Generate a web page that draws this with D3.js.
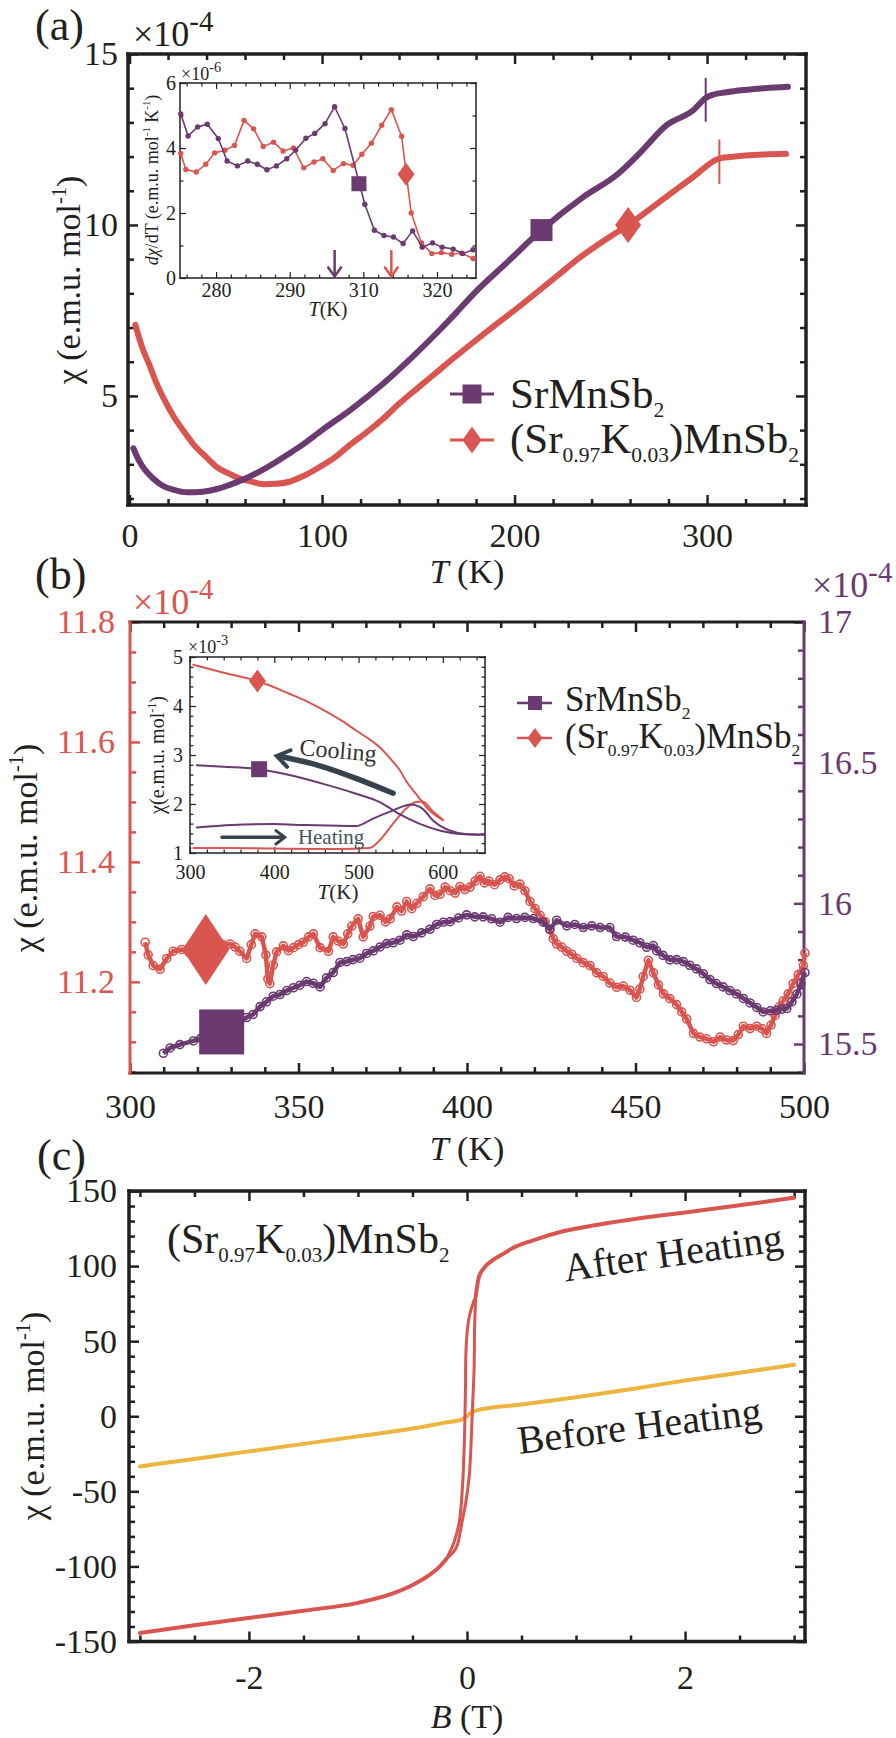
<!DOCTYPE html>
<html lang="en">
<head>
<meta charset="UTF-8">
<title>SrMnSb2 susceptibility</title>
<script src="https://d3js.org/d3.v7.min.js"></script>
<style>
  body { margin: 0; background: #fff; }
  svg { display: block; }
  svg text { font-family: "Liberation Serif", "Times New Roman", Tinos, "DejaVu Serif", serif; }
</style>
</head>
<body>
<script>
const SERIF = '"Liberation Serif", "Times New Roman", Tinos, "DejaVu Serif", serif';
const INK = "#231f20", PURPLE = "#6b3a70", RED = "#d9554f", GOLD = "#ebb53f", SLATE = "#37424d";

// ---------- (a) chi(T), units 1e-4 emu/mol ----------
const aT_Sr   = [2, 5, 8, 12, 17, 23, 30, 38, 45, 52, 60, 68, 75, 82, 89, 100, 115, 132, 149, 161, 170, 179, 196, 214, 236, 253, 265, 279, 293, 299.5, 302, 310, 320, 330, 342];
const aChi_Sr = [3.47, 3.1, 2.84, 2.6, 2.38, 2.25, 2.18, 2.2, 2.27, 2.4, 2.58, 2.8, 3.03, 3.28, 3.54, 4.0, 4.6, 5.37, 6.25, 6.92, 7.45, 8.0, 8.9, 9.85, 10.83, 11.46, 12.1, 12.92, 13.36, 13.72, 13.79, 13.88, 13.95, 14.0, 14.04];
const aT_K    = [3, 7, 10, 14, 18, 23, 28, 33, 40, 45, 52, 57, 63, 69.5, 76, 83, 90, 99, 107, 114.5, 123, 132, 140, 149, 158, 166.5, 182, 204.6, 221.9, 234, 248, 259, 279, 293, 306.4, 312, 320, 330, 341];
const aChi_K  = [7.08, 6.35, 5.95, 5.37, 4.9, 4.39, 3.98, 3.6, 3.2, 2.93, 2.72, 2.59, 2.5, 2.42, 2.43, 2.49, 2.65, 2.93, 3.22, 3.57, 3.93, 4.35, 4.77, 5.2, 5.62, 6.02, 6.72, 7.71, 8.5, 9.05, 9.6, 10.0, 10.83, 11.41, 11.95, 11.99, 12.03, 12.06, 12.08];
const aMarkT  = [214, 259];          // square (Sr), diamond (K)
const aTc     = [299.3, 306.4];      // transition bars
const aTcLo   = [13.02, 11.2], aTcHi = [14.3, 12.5];

// ---------- (a) inset: dchi/dT, units 1e-6 ----------
const iaTickVals = [280, 290, 300, 310];
const iaTickText = ["280", "290", "310", "320"];
const iaT_Sr = [275.2, 276.2, 277.5, 278.8, 280.3, 281.5, 282.9, 284.3, 285.6, 286.9, 288.2, 289.6, 290.8, 292.2, 293.4, 294.8, 296.1, 297.5, 300.2, 301.5, 302.8, 304.1, 305.4, 306.7, 308.0, 309.4, 310.7, 312.2, 313.5, 314.9];
const iaD_Sr = [5.05, 4.37, 4.65, 4.73, 4.29, 3.60, 3.45, 3.60, 3.50, 3.33, 3.45, 3.67, 3.93, 4.30, 4.45, 4.75, 5.27, 4.60, 2.27, 1.47, 1.31, 1.26, 1.06, 1.45, 0.95, 1.08, 0.95, 0.89, 0.75, 0.87];
const iaT_K  = [275.2, 275.9, 277.3, 278.6, 279.8, 281.2, 282.5, 283.8, 285.1, 286.4, 287.8, 289.1, 290.5, 291.9, 293.3, 294.5, 295.9, 297.3, 298.6, 299.8, 301.1, 302.5, 303.8, 305.2, 306.5, 307.9, 309.3, 310.6, 312.0, 313.3, 314.9];
const iaD_K  = [3.83, 3.34, 3.26, 3.50, 3.85, 3.93, 4.08, 4.85, 4.59, 4.05, 4.18, 3.91, 4.00, 3.39, 3.57, 3.67, 3.31, 3.52, 3.47, 3.81, 4.15, 4.70, 5.18, 4.36, 2.00, 1.08, 0.75, 0.78, 0.73, 0.77, 0.60];
const iaMarkT = [299.4, 305.8], iaMarkD = [2.9, 3.19];
const iaArrowT = [296.1, 303.8];

// ---------- (b) chi(T) above 300 K, units 1e-4 ----------
const bT_K = [304.5, 305.4, 306.9, 308.9, 310.9, 312.8, 315.3, 317.5, 320, 322.5, 325, 327.5, 329.7, 331.2, 332.6, 334.6, 336, 337.1, 339.1, 340.3, 340.9, 341.5, 342.5, 343.5, 345.5, 347, 348.5, 350, 351.4, 353, 354.4, 356.4, 358.9, 360.3, 361.8, 363.3, 364.6, 365.8, 367.7, 369.2, 371.2, 372.2, 374.2, 375.8, 377.2, 379.2, 380.6, 382.1, 383.6, 385.1, 387, 389, 390.5, 392, 393.5, 395, 396.5, 397.9, 399.4, 400.9, 402.4, 403.9, 405.2, 406.5, 408.2, 409.8, 411.2, 412.5, 414, 415.7, 417.2, 418.7, 420.2, 421.7, 423.2, 424.6, 425.6, 426.6, 428.1, 429.6, 431.1, 432.6, 434.5, 436.5, 438.5, 440.4, 442.4, 444.4, 446.4, 448.4, 450.3, 451.3, 452.3, 453.8, 455.3, 456.8, 458.3, 460.2, 462.2, 463.7, 465.2, 467.2, 469.1, 471.1, 473.1, 475.1, 477, 479, 480.5, 482, 484, 486, 487.5, 488.9, 490.2, 491.4, 492.6, 493.8, 495.3, 496.8, 498.3, 499.8, 500.3];
const bChi_K = [11.266, 11.245, 11.227, 11.221, 11.239, 11.251, 11.254, 11.249, 11.256, 11.254, 11.258, 11.262, 11.263, 11.258, 11.251, 11.239, 11.262, 11.280, 11.275, 11.245, 11.205, 11.197, 11.228, 11.250, 11.260, 11.252, 11.257, 11.262, 11.266, 11.275, 11.280, 11.257, 11.251, 11.275, 11.268, 11.263, 11.280, 11.293, 11.305, 11.275, 11.293, 11.309, 11.311, 11.300, 11.305, 11.325, 11.318, 11.334, 11.322, 11.331, 11.342, 11.355, 11.344, 11.346, 11.358, 11.352, 11.348, 11.359, 11.354, 11.358, 11.368, 11.376, 11.365, 11.368, 11.362, 11.370, 11.375, 11.372, 11.360, 11.363, 11.352, 11.334, 11.322, 11.311, 11.300, 11.287, 11.272, 11.263, 11.258, 11.251, 11.246, 11.239, 11.232, 11.227, 11.215, 11.209, 11.198, 11.191, 11.193, 11.186, 11.174, 11.188, 11.209, 11.236, 11.215, 11.195, 11.180, 11.172, 11.162, 11.150, 11.138, 11.114, 11.108, 11.105, 11.100, 11.108, 11.103, 11.102, 11.112, 11.126, 11.122, 11.126, 11.122, 11.114, 11.128, 11.144, 11.158, 11.168, 11.180, 11.197, 11.212, 11.227, 11.248];
const bT_Sr = [309.9, 311.9, 314.8, 318.8, 321, 324, 327, 330, 332.5, 334.6, 336.5, 338.6, 340.5, 342.5, 344.5, 346.5, 348.5, 350.4, 352.4, 354.4, 356.4, 358.3, 360.3, 362.3, 364.3, 366.2, 368.2, 370.2, 372.2, 374.2, 376.2, 378.1, 380.1, 382.1, 384.1, 386.5, 389, 391, 393, 395, 397.5, 399.9, 402.3, 404.8, 407.3, 409.8, 412.2, 414.7, 417.2, 419.7, 422.6, 424.6, 426.6, 429.6, 432, 434.5, 437, 439.5, 442.4, 444.4, 447, 449.3, 451.3, 453.3, 455.3, 456.3, 458.2, 460.2, 462.2, 464.2, 466.1, 468.1, 470.1, 472.1, 474, 476, 478, 480, 482, 484, 486, 487.9, 490, 491.9, 493.4, 494.9, 496.4, 497.9, 499.1, 500.3];
const bChi_Sr = [15.467, 15.486, 15.498, 15.511, 15.52, 15.535, 15.55, 15.565, 15.58, 15.594, 15.605, 15.633, 15.65, 15.67, 15.676, 15.69, 15.70, 15.709, 15.722, 15.716, 15.703, 15.735, 15.754, 15.79, 15.793, 15.80, 15.805, 15.822, 15.831, 15.845, 15.857, 15.86, 15.869, 15.888, 15.882, 15.895, 15.908, 15.925, 15.933, 15.935, 15.948, 15.959, 15.952, 15.952, 15.945, 15.933, 15.95, 15.946, 15.95, 15.946, 15.933, 15.908, 15.94, 15.92, 15.925, 15.914, 15.92, 15.914, 15.914, 15.882, 15.88, 15.869, 15.86, 15.844, 15.85, 15.831, 15.815, 15.799, 15.80, 15.793, 15.78, 15.767, 15.75, 15.729, 15.715, 15.703, 15.69, 15.678, 15.662, 15.646, 15.63, 15.614, 15.618, 15.62, 15.624, 15.626, 15.65, 15.678, 15.715, 15.754];
const bMarkK  = [322.5, 11.254];   // diamond on left (red) axis
const bMarkSr = [327.2, 15.543];   // square on right (purple) axis

// ---------- (b) inset: chi(T) to 650 K, units 1e-3 ----------
const ibT_KCool  = [304, 340, 380, 418, 438, 458, 478, 497, 517, 525, 541, 549, 556, 568, 584, 600];
const ibChi_KCool = [4.84, 4.68, 4.51, 4.25, 4.10, 3.92, 3.72, 3.50, 3.27, 3.16, 2.86, 2.69, 2.48, 2.21, 1.87, 1.67];
const ibT_KHeat  = [304, 350, 399, 477, 513, 525, 541, 556, 568, 576, 588, 600];
const ibChi_KHeat = [1.10, 1.10, 1.09, 1.08, 1.10, 1.26, 1.60, 1.90, 2.04, 2.05, 1.85, 1.68];
const ibT_SrCool = [308, 340, 382, 418, 458, 497, 525, 548, 572, 596, 620, 650];
const ibChi_SrCool = [2.79, 2.76, 2.71, 2.59, 2.41, 2.21, 2.04, 1.80, 1.60, 1.46, 1.39, 1.37];
const ibT_SrHeat = [308, 350, 399, 438, 497, 517, 541, 562, 576, 588, 608, 627, 650];
const ibChi_SrHeat = [1.52, 1.57, 1.59, 1.57, 1.55, 1.70, 1.87, 1.99, 1.90, 1.67, 1.46, 1.39, 1.38];
const ibMarkK = [380, 4.51], ibMarkSr = [382, 2.71];
const coolArrowT = [541, 498, 454, 410], coolArrowChi = [2.22, 2.52, 2.80, 2.96];
const heatArrowT = [338, 410], heatArrowChi = [1.32, 1.32];

// ---------- (c) chi(B) at room temperature ----------
const cB_before   = [-3, -2.5, -2, -1.5, -1, -0.5, -0.19, -0.05, 0, 0.05, 0.11, 0.5, 1, 1.5, 2, 2.5, 3];
const cChi_before = [-33.4, -28.4, -23.4, -18.4, -13.4, -8.2, -4.1, -2.2, 0.2, 2.8, 4.3, 7.8, 12.6, 18.0, 23.8, 29.0, 34.3];
const cB_lowTail   = [-3, -2.5, -2, -1.5, -1, -0.7, -0.49, -0.35, -0.25, -0.19];
const cChi_lowTail = [-144.3, -139.2, -134.3, -129.5, -124.3, -118.5, -112, -106, -100, -95];
const cB_upTail   = [0.08, 0.11, 0.16, 0.24, 0.33, 0.42, 0.6, 0.88, 1.2, 1.6, 2.0, 2.5, 3.0];
const cChi_upTail = [80, 93, 99, 104.2, 108, 112, 117, 123.2, 127.5, 132, 135.7, 140.5, 145.5];
const cB_asc   = [-0.19, -0.12, -0.07, -0.04, -0.025, -0.015, -0.01, 0.0, 0.02, 0.05, 0.08];
const cChi_asc = [-95, -84, -70, -45, -19, 15, 42, 55, 66, 74, 80];
const cB_desc   = [0.08, 0.07, 0.065, 0.05, 0.037, 0.02, -0.01, -0.05, -0.085, -0.12, -0.19];
const cChi_desc = [80, 60, 31.8, 5, -19, -40, -57, -72, -85, -90, -95];

// ---------- helpers ----------
const svg = d3.select("body").append("svg").attr("width", 896).attr("height", 1738)
  .style("font-family", SERIF);

function rich(parent, x, y, fs, segs, o = {}) {
  const t = parent.append("text").attr("x", x).attr("y", y).attr("font-size", fs)
    .attr("fill", o.fill || INK).attr("text-anchor", o.anchor || "start");
  if (o.rotate != null) t.attr("transform", `rotate(${o.rotate},${x},${y})`);
  let cur = 0;
  segs.forEach(s => {
    if (typeof s === "string") s = { t: s };
    const sc = s.sc || (s.sub || s.sup ? 0.6 : 1);
    const shift = s.sub ? fs * 0.22 : s.sup ? -fs * 0.42 : 0;
    const ts = t.append("tspan").text(s.t).attr("font-size", fs * sc).attr("dy", shift - cur);
    if (s.i) ts.attr("font-style", "italic");
    cur = shift;
  });
  return t;
}

function frame(g, x, y, o) {
  const [L, R] = x.range(), [B, T] = y.range();
  const y2 = o.y2 || y;
  if (o.fill) g.append("rect").attr("x", L).attr("y", T).attr("width", R - L).attr("height", B - T).attr("fill", o.fill);
  const put = (gen, sc, vals, len, fmt, tx, ty, col, pad) => {
    const a = gen(sc).tickValues(vals).tickSize(-len).tickPadding(pad || 0)
      .tickFormat(fmt || (() => ""));
    const s = g.append("g").attr("transform", `translate(${tx},${ty})`).call(a);
    s.select(".domain").remove();
    s.attr("font-family", null);
    s.selectAll(".tick line").attr("stroke", col).attr("stroke-width", o.tw);
    s.selectAll(".tick text").attr("fill", col).attr("font-size", o.fs);
  };
  const lc = o.lc || INK, rc = o.rc || INK;
  put(d3.axisBottom, x, o.xMin, o.tm, null, 0, B, INK);
  put(d3.axisBottom, x, o.xMaj, o.tl, o.xFmt, 0, B, INK, o.xPad);
  put(d3.axisTop, x, o.xMin, o.tm, null, 0, T, INK);
  put(d3.axisTop, x, o.xMaj, o.tl, null, 0, T, INK);
  put(d3.axisLeft, y, o.yMin, o.tm, null, L, 0, lc);
  put(d3.axisLeft, y, o.yMaj, o.tl, o.yFmt, L, 0, lc, o.yPad);
  put(d3.axisRight, y2, o.y2Min || o.yMin, o.tm, null, R, 0, rc);
  put(d3.axisRight, y2, o.y2Maj || o.yMaj, o.tl, o.y2Fmt, R, 0, rc, o.y2Pad);
  const edge = (x1, y1, x2, y2_, c) => g.append("line").attr("x1", x1).attr("y1", y1).attr("x2", x2).attr("y2", y2_)
    .attr("stroke", c).attr("stroke-width", o.sw).attr("stroke-linecap", "square");
  edge(L, B, R, B, INK); edge(L, T, R, T, INK); edge(L, T, L, B, lc); edge(R, T, R, B, rc);
}

const diamond = (w, h) => `M0,${-h / 2}L${w / 2},0L0,${h / 2}L${-w / 2},0Z`;
function square(g, cx, cy, s, col) {
  g.append("rect").attr("x", cx - s / 2).attr("y", cy - s / 2).attr("width", s).attr("height", s).attr("fill", col);
}
function diam(g, cx, cy, w, h, col) {
  g.append("path").attr("d", diamond(w, h)).attr("transform", `translate(${cx},${cy})`).attr("fill", col);
}
function chevron(g, x, y, ang, len, spread, col, w) {
  const a1 = ang + Math.PI - spread, a2 = ang + Math.PI + spread;
  g.append("path")
    .attr("d", `M${x + len * Math.cos(a1)},${y + len * Math.sin(a1)}L${x},${y}L${x + len * Math.cos(a2)},${y + len * Math.sin(a2)}`)
    .attr("fill", "none").attr("stroke", col).attr("stroke-width", w).attr("stroke-linecap", "round");
}
function curve(g, X, Y, x, y, col, w, c) {
  g.append("path").datum(d3.zip(X, Y))
    .attr("d", d3.line().x(d => x(d[0])).y(d => y(d[1])).curve(c || d3.curveLinear))
    .attr("fill", "none").attr("stroke", col).attr("stroke-width", w)
    .attr("stroke-linejoin", "round").attr("stroke-linecap", "round");
}
const chiLabel = ["χ (e.m.u. mol", { t: "-1", sup: true }, ")"];
const onCurve = (X, Y, t) => d3.scaleLinear().domain(X).range(Y)(t);

// ================= (a) =================
const gA = svg.append("g");
const xA = d3.scaleLinear().domain([-0.8, 351.4]).range([128, 806]);
const yA = d3.scaleLinear().domain([1.81, 15]).range([505, 54]);
frame(gA, xA, yA, {
  xMaj: [0, 100, 200, 300], xMin: d3.range(20, 351, 20).filter(v => v % 100),
  yMaj: [5, 10, 15], yMin: [2, 3, 4, 6, 7, 8, 9, 11, 12, 13, 14],
  tl: 10, tm: 6, tw: 2.5, sw: 3.5, fs: 34, xPad: 18, yPad: 10, xFmt: d => d, yFmt: d => d
});
curve(gA, aT_K, aChi_K, xA, yA, RED, 6, d3.curveMonotoneX);
curve(gA, aT_Sr, aChi_Sr, xA, yA, PURPLE, 6, d3.curveMonotoneX);
aTc.forEach((t, i) => gA.append("line").attr("x1", xA(t)).attr("x2", xA(t))
  .attr("y1", yA(aTcLo[i])).attr("y2", yA(aTcHi[i])).attr("stroke", i ? RED : PURPLE).attr("stroke-width", 2));
square(gA, xA(aMarkT[0]), yA(onCurve(aT_Sr, aChi_Sr, aMarkT[0])), 22, PURPLE);
diam(gA, xA(aMarkT[1]), yA(onCurve(aT_K, aChi_K, aMarkT[1])), 26, 36, RED);

rich(gA, 35, 40, 44, ["(a)"]);
rich(gA, 133, 46, 36, ["×10", { t: "-4", sup: true, sc: 0.8 }]);
rich(gA, 467, 583, 34, [{ t: "T", i: true }, " (K)"], { anchor: "middle" });
rich(gA, 80, 280, 34, chiLabel, { anchor: "middle", rotate: -90 });

// legend (a)
[[394, PURPLE], [440, RED]].forEach(([yy, c], i) => {
  gA.append("line").attr("x1", 450).attr("x2", 494).attr("y1", yy).attr("y2", yy).attr("stroke", c).attr("stroke-width", 3);
  if (i) diam(gA, 472, yy, 19, 27, c); else square(gA, 472, yy, 19, c);
});
rich(gA, 510, 408, 43, ["SrMnSb", { t: "2", sub: true, sc: 0.5 }]);
rich(gA, 510, 453, 43, ["(Sr", { t: "0.97", sub: true, sc: 0.5 }, "K", { t: "0.03", sub: true, sc: 0.5 }, ")MnSb", { t: "2", sub: true, sc: 0.5 }]);

// ---- inset (a)
const gIa = svg.append("g");
const xIa = d3.scaleLinear().domain([275.1, 315.3]).range([180, 476]);
const yIa = d3.scaleLinear().domain([0, 6]).range([278, 83]);
frame(gIa, xIa, yIa, {
  fill: "#fff",
  xMaj: iaTickVals, xMin: d3.range(276, 315.3, 2).filter(v => v % 10),
  yMaj: [0, 2, 4, 6], yMin: [1, 3, 5],
  tl: 6, tm: 3.5, tw: 1.2, sw: 1.5, fs: 20, xPad: 5, yPad: 4,
  xFmt: d => iaTickText[iaTickVals.indexOf(d)], yFmt: d => d
});
[[iaT_K, iaD_K, RED], [iaT_Sr, iaD_Sr, PURPLE]].forEach(([X, Y, c]) => {
  curve(gIa, X, Y, xIa, yIa, c, 1.6);
  gIa.append("g").selectAll("circle").data(d3.zip(X, Y)).join("circle")
    .attr("cx", d => xIa(d[0])).attr("cy", d => yIa(d[1])).attr("r", 2.7).attr("fill", c);
});
square(gIa, xIa(iaMarkT[0]), yIa(iaMarkD[0]), 15, PURPLE);
diam(gIa, xIa(iaMarkT[1]), yIa(iaMarkD[1]), 17, 23, RED);
iaArrowT.forEach((t, i) => {
  const c = i ? RED : PURPLE;
  gIa.append("line").attr("x1", xIa(t)).attr("x2", xIa(t)).attr("y1", yIa(0.86)).attr("y2", yIa(0.05))
    .attr("stroke", c).attr("stroke-width", 2.5);
  chevron(gIa, xIa(t), yIa(0.05), Math.PI / 2, 11, 0.62, c, 2.5);
});
rich(gIa, 181, 80, 18, ["×10", { t: "-6", sup: true, sc: 0.8 }]);
rich(gIa, 328, 316, 20, [{ t: "T", i: true }, "(K)"], { anchor: "middle" });
rich(gIa, 158, 180, 18, [{ t: "dχ", i: true }, "/dT (e.m.u. mol", { t: "-1", sup: true }, " K", { t: "-1", sup: true }, ")"],
  { anchor: "middle", rotate: -90 });

// ================= (b) =================
const gB = svg.append("g");
const xB = d3.scaleLinear().domain([300, 500]).range([130, 804]);
const yBl = d3.scaleLinear().domain([11.048, 11.8]).range([1073, 622]);
const yBr = d3.scaleLinear().domain([15.397, 17.0]).range([1073, 622]);
frame(gB, xB, yBl, {
  xMaj: [300, 350, 400, 450, 500], xMin: d3.range(310, 500, 10).filter(v => v % 50),
  yMaj: [11.2, 11.4, 11.6, 11.8], yMin: d3.range(221, 236).filter(k => k % 4).map(k => k / 20),
  y2: yBr, y2Maj: [15.5, 16, 16.5, 17], y2Min: d3.range(154, 171).filter(k => k % 5).map(k => k / 10),
  lc: RED, rc: PURPLE, tl: 10, tm: 6, tw: 2.5, sw: 3, fs: 34, xPad: 21, yPad: 15, y2Pad: 14,
  xFmt: d => d, yFmt: d3.format(".1f"), y2Fmt: d => String(d)
});
function noisy(g, T, V, x, y, col) {
  const pts = d3.zip(T, V);
  g.append("path").datum(pts).attr("d", d3.line().x(d => x(d[0])).y(d => y(d[1])))
    .attr("fill", "none").attr("stroke", col).attr("stroke-width", 4.5).attr("stroke-linejoin", "round");
  g.append("g").selectAll("circle").data(pts).join("circle")
    .attr("cx", d => x(d[0])).attr("cy", d => y(d[1])).attr("r", 4)
    .attr("fill", "none").attr("stroke", col).attr("stroke-width", 1.6);
}
noisy(gB, bT_K, bChi_K, xB, yBl, RED);
noisy(gB, bT_Sr, bChi_Sr, xB, yBr, PURPLE);
diam(gB, xB(bMarkK[0]), yBl(bMarkK[1]), 47, 71, RED);
square(gB, xB(bMarkSr[0]), yBr(bMarkSr[1]), 45, PURPLE);

rich(gB, 35, 589, 44, ["(b)"]);
rich(gB, 133, 614, 36, ["×10", { t: "-4", sup: true, sc: 0.8 }], { fill: RED });
rich(gB, 812, 597, 36, ["×10", { t: "-4", sup: true, sc: 0.8 }], { fill: PURPLE });
rich(gB, 467, 1160, 34, [{ t: "T", i: true }, " (K)"], { anchor: "middle" });
rich(gB, 37, 848, 34, chiLabel, { anchor: "middle", rotate: -90 });

// legend (b)
[[703, PURPLE], [738, RED]].forEach(([yy, c], i) => {
  gB.append("line").attr("x1", 517).attr("x2", 552).attr("y1", yy).attr("y2", yy).attr("stroke", c).attr("stroke-width", 2.5);
  if (i) diam(gB, 535, yy, 15, 20, c); else square(gB, 535, yy, 14, c);
});
rich(gB, 565, 711, 35, ["SrMnSb", { t: "2", sub: true, sc: 0.5 }]);
rich(gB, 565, 748, 35, ["(Sr", { t: "0.97", sub: true, sc: 0.5 }, "K", { t: "0.03", sub: true, sc: 0.5 }, ")MnSb", { t: "2", sub: true, sc: 0.5 }]);

// ---- inset (b)
const gIb = svg.append("g");
const xIb = d3.scaleLinear().domain([300, 650]).range([190, 485]);
const yIb = d3.scaleLinear().domain([1, 5]).range([853, 657]);
frame(gIb, xIb, yIb, {
  fill: "#fff",
  xMaj: [300, 400, 500, 600], xMin: d3.range(320, 650, 20).filter(v => v % 100),
  yMaj: [1, 2, 3, 4, 5], yMin: d3.range(6, 25).filter(k => k % 5).map(k => k / 5),
  tl: 6, tm: 3.5, tw: 1.2, sw: 1.5, fs: 20, xPad: 12, yPad: 7, xFmt: d => d, yFmt: d => d
});
curve(gIb, ibT_KHeat, ibChi_KHeat, xIb, yIb, RED, 2, d3.curveMonotoneX);
curve(gIb, ibT_SrHeat, ibChi_SrHeat, xIb, yIb, PURPLE, 2, d3.curveMonotoneX);
curve(gIb, ibT_SrCool, ibChi_SrCool, xIb, yIb, PURPLE, 2, d3.curveMonotoneX);
curve(gIb, ibT_KCool, ibChi_KCool, xIb, yIb, RED, 2, d3.curveMonotoneX);
diam(gIb, xIb(ibMarkK[0]), yIb(ibMarkK[1]), 17, 23, RED);
square(gIb, xIb(ibMarkSr[0]), yIb(ibMarkSr[1]), 16, PURPLE);
// cooling / heating arrows
curve(gIb, coolArrowT, coolArrowChi, xIb, yIb, SLATE, 5.5, d3.curveBasis);
{
  const n = coolArrowT.length;
  const px = xIb(coolArrowT[n - 1]), py = yIb(coolArrowChi[n - 1]);
  const ang = Math.atan2(py - yIb(coolArrowChi[n - 2]), px - xIb(coolArrowT[n - 2]));
  chevron(gIb, px - 6, py - 1, ang, 15, 0.6, SLATE, 4);
}
curve(gIb, heatArrowT, heatArrowChi, xIb, yIb, SLATE, 3.5);
chevron(gIb, xIb(heatArrowT[1]) + 2, yIb(heatArrowChi[1]), 0, 11, 0.65, SLATE, 3);
rich(gIb, xIb(475), yIb(2.93), 24, ["Cooling"], { anchor: "middle", rotate: 5, fill: "#333" });
rich(gIb, xIb(428), yIb(1.19), 21, ["Heating"], { fill: "#4a535c" });

rich(gIb, 188, 653, 18, ["×10", { t: "-3", sup: true, sc: 0.8 }]);
rich(gIb, 338, 899, 21, [{ t: "T", i: true }, "(K)"], { anchor: "middle" });
rich(gIb, 164, 755, 20, ["χ(e.m.u. mol", { t: "-1", sup: true }, ")"], { anchor: "middle", rotate: -90 });

// ================= (c) =================
const gC = svg.append("g");
const xC = d3.scaleLinear().domain([-3.1, 3.1]).range([129, 805]);
const yC = d3.scaleLinear().domain([-150, 150]).range([1641.5, 1191]);
frame(gC, xC, yC, {
  xMaj: [-2, 0, 2], xMin: [-3, -2.5, -1.5, -1, -0.5, 0.5, 1, 1.5, 2.5, 3],
  yMaj: d3.range(-150, 151, 50), yMin: d3.range(-140, 150, 10).filter(v => v % 50),
  tl: 10, tm: 6, tw: 2.5, sw: 3.5, fs: 34, xPad: 23, yPad: 12, xFmt: d => String(d), yFmt: d => String(d)
});
curve(gC, cB_before, cChi_before, xC, yC, GOLD, 4, d3.curveMonotoneX);
curve(gC, cB_lowTail, cChi_lowTail, xC, yC, RED, 4, d3.curveMonotoneX);
curve(gC, cB_asc, cChi_asc, xC, yC, RED, 3, d3.curveCatmullRom);
curve(gC, cB_desc, cChi_desc, xC, yC, RED, 3, d3.curveCatmullRom);
curve(gC, cB_upTail, cChi_upTail, xC, yC, RED, 4, d3.curveMonotoneX);

rich(gC, 37, 1170, 44, ["(c)"]);
rich(gC, 167, 1253, 42, ["(Sr", { t: "0.97", sub: true, sc: 0.5 }, "K", { t: "0.03", sub: true, sc: 0.5 }, ")MnSb", { t: "2", sub: true, sc: 0.5 }]);
rich(gC, 675, 1266, 40, ["After Heating"], { anchor: "middle", rotate: -8 });
rich(gC, 641, 1439, 40, ["Before Heating"], { anchor: "middle", rotate: -7 });
rich(gC, 467, 1728, 34, [{ t: "B", i: true }, " (T)"], { anchor: "middle" });
rich(gC, 44, 1416, 34, chiLabel, { anchor: "middle", rotate: -90 });
</script>
</body>
</html>
